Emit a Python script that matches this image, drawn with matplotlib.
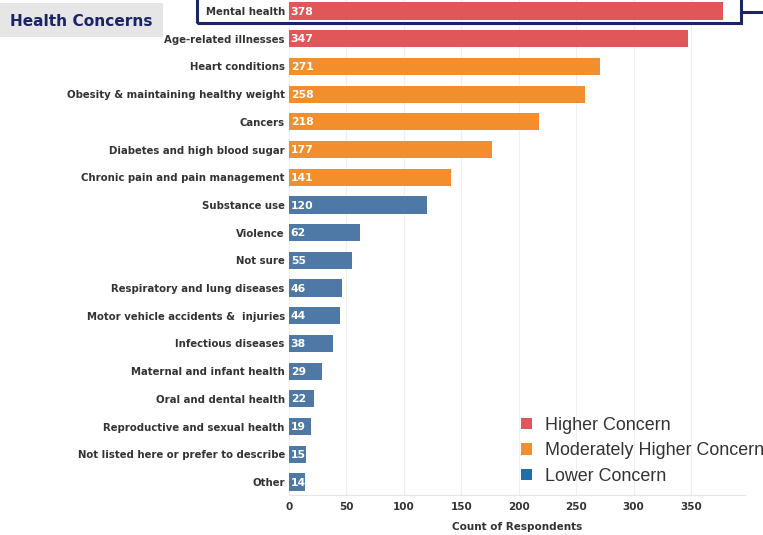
import matplotlib
matplotlib.use('Agg')
import matplotlib.pyplot as plt
from matplotlib.patches import Rectangle, Patch
from matplotlib.lines import Line2D

# %% Data
concerns = ['Mental health', 'Age-related illnesses', 'Heart conditions',
            'Obesity & maintaining healthy weight', 'Cancers',
            'Diabetes and high blood sugar', 'Chronic pain and pain management',
            'Substance use', 'Violence', 'Not sure',
            'Respiratory and lung diseases', 'Motor vehicle accidents &  injuries',
            'Infectious diseases', 'Maternal and infant health',
            'Oral and dental health', 'Reproductive and sexual health',
            'Not listed here or prefer to describe', 'Other']
counts = [378, 347, 271, 258, 218, 177, 141, 120, 62, 55, 46, 44, 38, 29, 22, 19, 15, 14]
levels = ['High', 'High', 'Mod', 'Mod', 'Mod', 'Mod', 'Mod',
          'Low', 'Low', 'Low', 'Low', 'Low', 'Low', 'Low', 'Low', 'Low', 'Low', 'Low']
xticks = [0, 50, 100, 150, 200, 250, 300, 350]

colors = {'High': '#e15759', 'Mod': '#f28e2b', 'Low': '#4e79a7'}
legend_cols = ['#e15759', '#f28e2b', '#1f6fad']
legend_names = ['Higher Concern', 'Moderately Higher Concern', 'Lower Concern']
navy = '#1b2466'
txt = '#333333'

fig = plt.figure(figsize=(7.63, 5.35), dpi=100)
ax = fig.add_axes([289/763, 1 - 495/535, (745 - 289)/763, 495/535])

ypos = list(range(len(concerns)))
ax.barh(ypos, counts, height=0.62, color=[colors[l] for l in levels], zorder=2)
for y, c in zip(ypos, counts):
    ax.text(1.5, y + 0.02, str(c), color='white', fontsize=7.8, fontweight='bold',
            va='center', ha='left', zorder=3)

ax.set_ylim(len(concerns) - 0.53, -0.40)
ax.set_xlim(0, 397)
ax.set_yticks(ypos)
ax.set_yticklabels(concerns, fontsize=7.3, fontweight='bold', color=txt)
ax.set_xticks(xticks)
ax.set_xticklabels([str(t) for t in xticks], fontsize=7.5, fontweight='bold', color=txt)
ax.tick_params(axis='both', length=0, pad=3)
ax.tick_params(axis='x', pad=5)
ax.set_xlabel('Count of Respondents', fontsize=7.5, fontweight='bold', color=txt, labelpad=7)

for s in ['top', 'right', 'left']:
    ax.spines[s].set_visible(False)
ax.spines['bottom'].set_color('#e6e6e6')
ax.grid(axis='x', color='#f0f0f0', linewidth=0.8, zorder=0)
ax.set_axisbelow(True)

# title badge
fig.patches.append(Rectangle((0, 1 - 37/535), 163/763, 34/535, transform=fig.transFigure,
                             facecolor='#e6e6e6', edgecolor='none', zorder=0))
fig.text(10/763, 1 - 21/535, 'Health Concerns', fontsize=11.1, fontweight='bold',
         color=navy, va='center', ha='left')

# highlight box on the top row
fig.patches.append(Rectangle((197/763, 1 - 23/535), (741 - 197)/763, 26/535,
                             transform=fig.transFigure, facecolor='none',
                             edgecolor=navy, linewidth=2.2, zorder=5))
fig.lines.append(Line2D([741/763, 1], [1 - 12/535, 1 - 12/535], transform=fig.transFigure,
                        color=navy, linewidth=2.2, zorder=5))

handles = [Patch(facecolor=c, edgecolor='none') for c in legend_cols]
fig.legend(handles, legend_names, loc='upper left', bbox_to_anchor=(521/763, 1 - 417/535),
           frameon=False, handlelength=0.62, handleheight=0.62,
           handletextpad=0.72, labelspacing=0.47, borderaxespad=0, borderpad=0,
           prop={'family': 'Liberation Sans', 'size': 12.9}, labelcolor=txt)

fig.savefig('out.png', dpi=100)
